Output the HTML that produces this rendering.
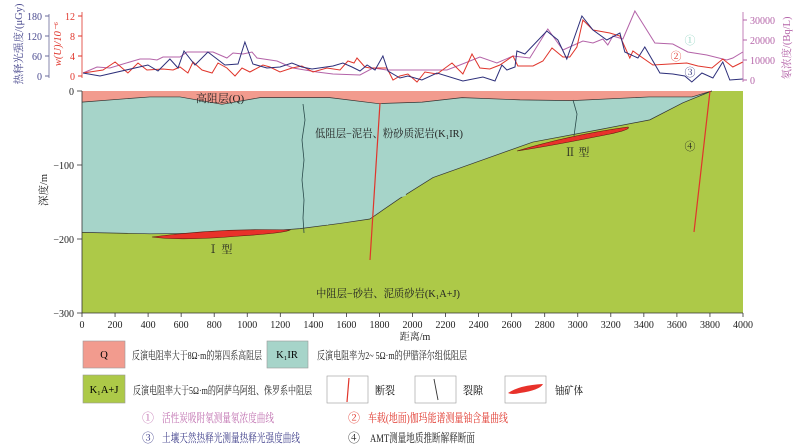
<!DOCTYPE html>
<html><head><meta charset="utf-8"><style>
html,body{margin:0;padding:0;background:#fff;}
svg{display:block;font-family:"Liberation Serif","Noto Serif CJK SC","Noto Sans CJK SC",serif;}
</style></head><body>
<svg id="c" width="800" height="447" viewBox="0 0 800 447" xmlns="http://www.w3.org/2000/svg"></svg>
<script>
// ---- data ----
const heatX=[6,109,399,460,532,581,617,684,762,865,944,986,1034,1119,1198,1270,1331,1392,1519,1579,1634,1682,1725,1773,1821,1852,1924,1972,2057,2148,2305,2426,2499,2541,2571,2620,2632,2680,2813,2880,2934,3025,3092,3176,3255,3285,3364,3406,3497,3575,3648,3690,3751,3818,3878,3920,3999];
const heatV=[9,0,33,15,51,24,75,33,72,33,36,102,36,24,27,39,27,21,30,39,27,15,33,18,60,15,-6,0,-12,9,-15,-3,-15,33,18,27,75,66,135,108,51,180,138,108,129,72,54,87,9,6,0,-18,9,-6,42,-12,-9];
const uX=[6,127,200,278,339,393,490,551,593,641,672,726,787,823,877,926,968,1016,1095,1137,1198,1271,1331,1398,1482,1561,1609,1646,1664,1712,1742,1845,1882,1924,1972,2027,2075,2148,2239,2305,2360,2408,2468,2529,2608,2638,2729,2789,2844,2910,2952,2995,3031,3092,3194,3255,3315,3334,3455,3660,3727,3812,3878,3938,3999];
const uV=[0.6,1.2,2.8,0.6,2.6,1.2,1.4,1.2,1.8,0.6,2.8,1.2,0.6,2.6,1.6,0,1.6,0.8,2.2,1.8,0.8,1.6,2,0.8,1.6,1.2,3,2.6,3.6,1.8,1.6,1.6,-0.8,0,0.4,-1.2,0.8,0.4,2.6,0.4,4.4,1.6,1.4,2.2,4,2,2,3,5.6,3.8,3.8,5.8,11.2,9.2,8.6,8,3.6,5,2.2,2.6,2,1.6,3.4,1.8,2.8];
const rnX=[6,91,169,248,351,411,454,490,593,635,756,793,877,914,974,1029,1059,1180,1277,1422,1519,1682,1761,1845,1924,2208,2287,2408,2511,2608,2710,2819,2910,3031,3092,3152,3182,3213,3273,3346,3467,3575,3666,3781,3902,3938,3999];
const rnV=[3500,6500,6000,8000,10500,10500,10000,11500,11500,14000,14000,14000,11000,13500,13000,14000,11000,9500,6000,4000,3000,2500,6000,5000,5000,5000,7500,11500,8500,12000,11000,25500,15000,19500,18500,20500,17500,22000,20500,34500,18500,18000,14000,12500,10000,11000,14000];
const qBotX=[0,410,593,847,1077,1500,1791,2058,2300,2651,2965,3431,3691,3811];
const qBotD=[-15,-8,-8,-18,-9,-9,-17,-15,-9,-12,-13,-8,-8,0];
const irBotX=[0,411,956,1319,1561,1742,1924,2124,2426,2728,3134,3436,3636,3811];
const irBotD=[-191,-193,-192,-186,-179,-173,-145,-117,-93,-69,-52,-39,-16,0];
const xTicks=[0,200,400,600,800,1000,1200,1400,1600,1800,2000,2200,2400,2600,2800,3000,3200,3400,3600,3800,4000];
const dTicks=[0,-100,-200,-300];
const heatTicks=[0,60,120,180];
const uTicks=[0,4,8,12];
const rnTicks=[0,10000,20000,30000];

// ---- scales ----
const X=m=>82+m*0.16525;
const D=d=>91-d*0.74;
const HY=v=>76-v/3;
const UY=v=>76-v*5;
const RY=v=>80-v/500;
const NS='http://www.w3.org/2000/svg';
const svg=document.getElementById('c');
function el(t,a,p){const e=document.createElementNS(NS,t);for(const k in a)e.setAttribute(k,a[k]);(p||svg).appendChild(e);return e;}
function txt(x,y,s,a){const e=el('text',Object.assign({x:x,y:y,'font-size':10,fill:'#222'},a||{}));e.textContent=s;return e;}

// ---- section ----
let g=el('g',{});


let r=el('rect',{x:82,y:91,width:661,height:222,fill:'#adc948'},g);


let pIR='M'+X(0)+','+D(0);
qBotX.forEach((x,i)=>pIR+=' L'+X(x)+','+D(qBotD[i]));
for(let i=irBotX.length-1;i>=0;i--)pIR+=' L'+X(irBotX[i])+','+D(irBotD[i]);
let p=el('path',{d:pIR+'Z',fill:'#a6d4c9'},g);


let pq='M'+X(0)+','+D(0)+' L'+X(3811)+','+D(0);
for(let i=qBotX.length-1;i>=0;i--)pq+=' L'+X(qBotX[i])+','+D(qBotD[i]);
p=el('path',{d:pq+'Z',fill:'#f29b8e'},g);


let lq='M'+qBotX.map((x,i)=>X(x)+','+D(qBotD[i])).join(' L');
el('path',{d:lq,fill:'none',stroke:'#333','stroke-width':0.7},g);
let li='M'+irBotX.map((x,i)=>X(x)+','+D(irBotD[i])).join(' L');
el('path',{d:li,fill:'none',stroke:'#333','stroke-width':0.7},g);
el('path',{d:'M'+X(1480)+','+D(-180)+' L'+X(1960)+','+D(-140),fill:'none',stroke:'#a6d4c9','stroke-width':2,'stroke-dasharray':'6 4'},g);
el('path',{d:'M303,104 L305,120 L302,140 L304,160 L302,180 L304,200 L303,218 L304,233',fill:'none',stroke:'#2a4a4a','stroke-width':0.8},g);
el('path',{d:'M573,100 L577,114 L574,136',fill:'none',stroke:'#2a4a4a','stroke-width':0.8},g);
p=el('path',{d:'M152,237 Q220,228 290,230 Q285,233 240,236 Q180,241 152,237Z',fill:'#e8312a',stroke:'#5a1a10','stroke-width':0.6},g);


p=el('path',{d:'M517,151 Q570,135 628,127 Q632,130 600,136 Q550,146 517,151Z',fill:'#e8312a',stroke:'#5a1a10','stroke-width':0.6},g);


el('line',{x1:380,y1:103,x2:370,y2:260,stroke:'#e0352b','stroke-width':1.2},g);
el('line',{x1:710,y1:91,x2:694,y2:232,stroke:'#e0352b','stroke-width':1.2},g);
txt(220,102,'高阻层(Q)',{'text-anchor':'middle','font-size':11});
txt(315,137,'低阻层−泥岩、粉砂质泥岩(K₁IR)',{'font-size':11,textLength:148,lengthAdjust:'spacingAndGlyphs'});
txt(220,253,'Ⅰ 型',{'text-anchor':'middle','font-size':11});
txt(577,156,'Ⅱ 型',{'text-anchor':'middle','font-size':11});
txt(690,150,'④',{'text-anchor':'middle','font-size':11});
txt(316,297,'中阻层−砂岩、泥质砂岩(K₁A+J)',{'font-size':11,textLength:144,lengthAdjust:'spacingAndGlyphs'});
el('line',{x1:82,y1:91,x2:82,y2:313,stroke:'#333','stroke-width':0.8});
el('line',{x1:82,y1:313,x2:743,y2:313,stroke:'#333','stroke-width':0.8});
dTicks.forEach(d=>{el('line',{x1:77,y1:D(d),x2:82,y2:D(d),stroke:'#333','stroke-width':0.8});txt(74,D(d)+4,d===0?'0':'−'+(-d),{'text-anchor':'end'});});
xTicks.forEach(x=>{el('line',{x1:X(x),y1:313,x2:X(x),y2:317,stroke:'#333','stroke-width':0.8});txt(X(x),328,String(x),{'text-anchor':'middle'});});
txt(415,340,'距离/m',{'text-anchor':'middle'});
txt(0,0,'深度/m',{'text-anchor':'middle',transform:'translate(47,190) rotate(-90)','font-size':10.5});

// ---- top curves ----
function line(xs,vs,fx,fy,col,name){const e=el('path',{d:'M'+xs.map((x,i)=>fx(x).toFixed(1)+','+fy(vs[i]).toFixed(1)).join(' L'),fill:'none',stroke:col,'stroke-width':1});}
line(rnX,rnV,X,RY,'#b463a8','radon-curve');
line(uX,uV,X,UY,'#e0352b','uranium-curve');
line(heatX,heatV,X,HY,'#2d2f7a','thermoluminescence-curve');
el('line',{x1:49,y1:14,x2:49,y2:78,stroke:'#6a6a9a','stroke-width':0.8});
heatTicks.forEach(v=>{el('line',{x1:45,y1:HY(v),x2:49,y2:HY(v),stroke:'#6a6a9a'});txt(42,HY(v)+4,String(v),{'text-anchor':'end',fill:'#4a4a8f'});});
txt(0,0,'热释光强度/(μGy)',{'text-anchor':'middle',fill:'#4a4a8f','font-size':10.5,transform:'translate(22,44) rotate(-90)'});
el('line',{x1:82,y1:12,x2:82,y2:78,stroke:'#e0352b','stroke-width':0.8});
uTicks.forEach(v=>{el('line',{x1:78,y1:UY(v),x2:82,y2:UY(v),stroke:'#e0352b'});txt(75,UY(v)+4,String(v),{'text-anchor':'end',fill:'#e0352b'});});
txt(0,0,'w(U)/10⁻⁶',{'text-anchor':'middle',fill:'#e0352b','font-size':10.5,'font-style':'italic',transform:'translate(61,44) rotate(-90)'});
el('line',{x1:743,y1:12,x2:743,y2:82,stroke:'#b463a8','stroke-width':0.8});
rnTicks.forEach(v=>{el('line',{x1:743,y1:RY(v),x2:747,y2:RY(v),stroke:'#b463a8'});txt(750,RY(v)+4,String(v),{fill:'#b463a8'});});
txt(0,0,'氡浓度/(Bq/L)',{'text-anchor':'middle',fill:'#b463a8','font-size':10.5,transform:'translate(790,48) rotate(-90)'});
txt(690,44,'①',{'text-anchor':'middle',fill:'#8fd3c0','font-size':11});
txt(676,60,'②',{'text-anchor':'middle',fill:'#e0352b','font-size':11});
txt(690,76,'③',{'text-anchor':'middle',fill:'#2d2f7a','font-size':11});
</script>
<svg width="800" height="447" style="position:absolute;left:0;top:0" xmlns="http://www.w3.org/2000/svg" font-family="Liberation Serif, Noto Serif CJK SC, serif" font-size="11">
<rect x="83" y="341" width="42" height="27" fill="#f29b8e" stroke="#999" stroke-width="0.6"/>
<text x="104" y="358" text-anchor="middle" font-size="10.5">Q</text>
<text x="132" y="359" fill="#222" textLength="130" lengthAdjust="spacingAndGlyphs">反演电阻率大于8Ω·m的第四系高阻层</text>
<rect x="267" y="341" width="41" height="27" fill="#a6d4c9" stroke="#999" stroke-width="0.6"/>
<text x="287" y="358" text-anchor="middle" font-size="10.5">K₁IR</text>
<text x="317" y="359" fill="#222" textLength="150" lengthAdjust="spacingAndGlyphs">反演电阻率为2~ 5Ω·m的伊腊泽尔组低阻层</text>
<rect x="83" y="375" width="42" height="28" fill="#adc948" stroke="#999" stroke-width="0.6"/>
<text x="104" y="393" text-anchor="middle" font-size="10.5">K₁A+J</text>
<text x="133" y="394" fill="#222" textLength="179" lengthAdjust="spacingAndGlyphs">反演电阻率大于5Ω·m的阿萨乌阿组、侏罗系中阻层</text>
<rect x="327" y="376" width="41" height="27" fill="#fff" stroke="#999" stroke-width="0.6"/>
<line x1="349" y1="378" x2="347" y2="402" stroke="#e0352b" stroke-width="1.2"/>
<text x="375" y="394" textLength="20" lengthAdjust="spacingAndGlyphs">断裂</text>
<rect x="415" y="376" width="41" height="27" fill="#fff" stroke="#999" stroke-width="0.6"/>
<line x1="434" y1="379" x2="438" y2="400" stroke="#333" stroke-width="0.9"/>
<text x="463" y="394" textLength="20" lengthAdjust="spacingAndGlyphs">裂隙</text>
<rect x="505" y="376" width="41" height="27" fill="#fff" stroke="#999" stroke-width="0.6"/>
<path d="M508,393 Q520,385 543,384 Q540,390 520,393 Q512,395 508,393Z" fill="#e8312a"/>
<text x="555" y="394" textLength="28" lengthAdjust="spacingAndGlyphs">铀矿体</text>
<text x="142" y="422" fill="#c070b0" font-size="12">①</text>
<text x="162" y="422" fill="#c070b0" font-size="12" textLength="112" lengthAdjust="spacingAndGlyphs">活性炭吸附氡测量氡浓度曲线</text>
<text x="348" y="422" fill="#e0352b" font-size="12">②</text>
<text x="368" y="422" fill="#e0352b" font-size="12" textLength="140" lengthAdjust="spacingAndGlyphs">车载(地面)伽玛能谱测量铀含量曲线</text>
<text x="142" y="442" fill="#3d3d8a" font-size="12">③</text>
<text x="162" y="442" fill="#3d3d8a" font-size="12" textLength="138" lengthAdjust="spacingAndGlyphs">土壤天然热释光测量热释光强度曲线</text>
<text x="348" y="442" fill="#222" font-size="12">④</text>
<text x="370" y="442" fill="#222" font-size="12" textLength="105" lengthAdjust="spacingAndGlyphs">AMT测量地质推断解释断面</text>
</svg>
</body></html>
